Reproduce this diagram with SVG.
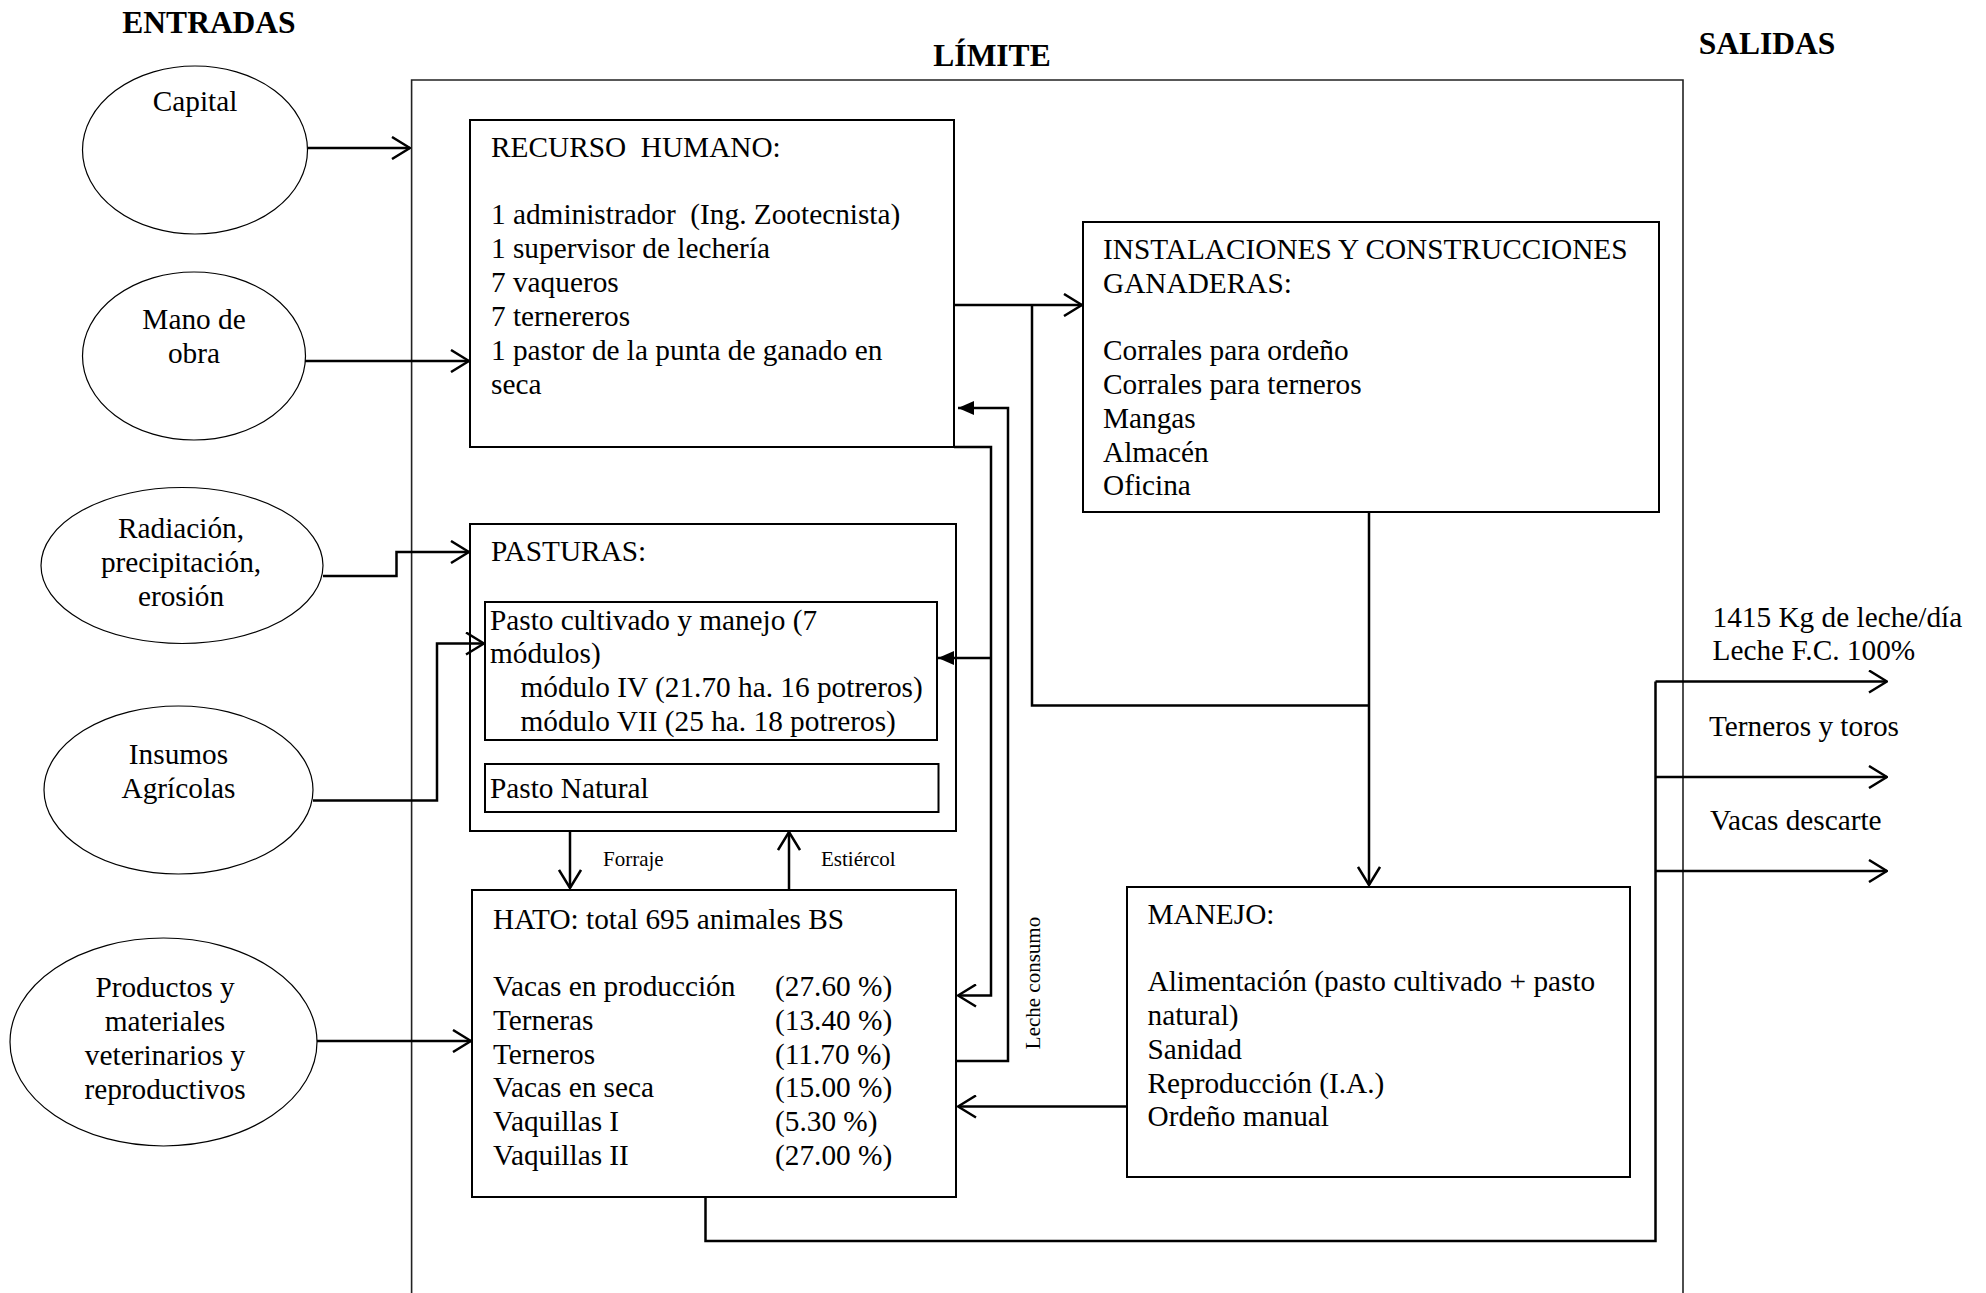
<svg xmlns="http://www.w3.org/2000/svg" width="1986" height="1293" viewBox="0 0 1986 1293">
<style>
text{font-family:"Liberation Serif","Times New Roman",serif;fill:#000}
.t{font-size:29.3px}
.b{font-size:31.5px;font-weight:bold}
.s{font-size:21px}
.c{text-anchor:middle}
.box{fill:#fff;stroke:#000;stroke-width:2}
.ell{fill:#fff;stroke:#000;stroke-width:1.2}
.ln{fill:none;stroke:#000;stroke-width:2.5}
.bd{fill:none;stroke:#222;stroke-width:1.6}
</style>
<defs>
<marker id="oa" viewBox="0 0 20 24" refX="19" refY="12" markerWidth="20" markerHeight="24" markerUnits="userSpaceOnUse" orient="auto">
<path d="M1,1 L19,12 L1,23" fill="none" stroke="#000" stroke-width="2.5"/>
</marker>
<marker id="fa" viewBox="0 0 16 14" refX="16" refY="7" markerWidth="16" markerHeight="14" markerUnits="userSpaceOnUse" orient="auto">
<path d="M0,0 L16,7 L0,14 Z" fill="#000"/>
</marker>
</defs>
<rect width="1986" height="1293" fill="#fff"/>

<g id="titles">
<text class="b c" x="209" y="33">ENTRADAS</text>
<text class="b c" x="992" y="66">LÍMITE</text>
<text class="b c" x="1767" y="54">SALIDAS</text>
</g>

<g id="limite">
<path class="bd" d="M411.6,1300 V80 H1683 V1300"/>
</g>

<g id="capital">
<ellipse class="ell" cx="195" cy="150" rx="112.5" ry="84"/>
<text class="t c" x="195" y="111">Capital</text>
</g>
<g id="mano-de-obra">
<ellipse class="ell" cx="194" cy="356" rx="111.5" ry="84"/>
<text class="t c" x="194" y="329">Mano de</text>
<text class="t c" x="194" y="363">obra</text>
</g>
<g id="radiacion">
<ellipse class="ell" cx="182" cy="565.5" rx="141" ry="78"/>
<text class="t c" x="181" y="538">Radiación,</text>
<text class="t c" x="181" y="572">precipitación,</text>
<text class="t c" x="181" y="606">erosión</text>
</g>
<g id="insumos">
<ellipse class="ell" cx="178.5" cy="790" rx="134.5" ry="84"/>
<text class="t c" x="178.5" y="764">Insumos</text>
<text class="t c" x="178.5" y="798">Agrícolas</text>
</g>
<g id="productos">
<ellipse class="ell" cx="163.5" cy="1042" rx="153.5" ry="104"/>
<text class="t c" x="165" y="997">Productos y</text>
<text class="t c" x="165" y="1031">materiales</text>
<text class="t c" x="165" y="1065">veterinarios y</text>
<text class="t c" x="165" y="1099">reproductivos</text>
</g>

<g id="recurso-humano">
<rect class="box" x="470" y="120" width="484" height="327"/>
<text class="t" x="491" y="157" xml:space="preserve">RECURSO  HUMANO:</text>
<text class="t" x="491" y="224" xml:space="preserve">1 administrador  (Ing. Zootecnista)</text>
<text class="t" x="491" y="258">1 supervisor de lechería</text>
<text class="t" x="491" y="292">7 vaqueros</text>
<text class="t" x="491" y="325.5">7 ternereros</text>
<text class="t" x="491" y="359.5">1 pastor de la punta de ganado en</text>
<text class="t" x="491" y="393.5">seca</text>
</g>

<g id="instalaciones">
<rect class="box" x="1083" y="222" width="576" height="290"/>
<text class="t" x="1103" y="258.5">INSTALACIONES Y CONSTRUCCIONES</text>
<text class="t" x="1103" y="292.5">GANADERAS:</text>
<text class="t" x="1103" y="360">Corrales para ordeño</text>
<text class="t" x="1103" y="394">Corrales para terneros</text>
<text class="t" x="1103" y="427.5">Mangas</text>
<text class="t" x="1103" y="461.5">Almacén</text>
<text class="t" x="1103" y="495">Oficina</text>
</g>

<g id="pasturas">
<rect class="box" x="470" y="524" width="486" height="307"/>
<text class="t" x="491" y="561">PASTURAS:</text>
<g id="pasto-cultivado">
<rect class="box" x="485" y="602" width="452" height="138"/>
<text class="t" x="490" y="629.5">Pasto cultivado y manejo (7</text>
<text class="t" x="490" y="663">módulos)</text>
<text class="t" x="520.5" y="697">módulo IV (21.70 ha. 16 potreros)</text>
<text class="t" x="520.5" y="731">módulo VII (25 ha. 18 potreros)</text>
</g>
<g id="pasto-natural">
<rect class="box" x="485" y="764" width="453.5" height="48"/>
<text class="t" x="490" y="798">Pasto Natural</text>
</g>
</g>

<g id="hato">
<rect class="box" x="472" y="890" width="484" height="307"/>
<text class="t" x="493" y="928.5">HATO: total 695 animales BS</text>
<text class="t" x="493" y="996">Vacas en producción</text>
<text class="t" x="493" y="1030">Terneras</text>
<text class="t" x="493" y="1063.5">Terneros</text>
<text class="t" x="493" y="1097">Vacas en seca</text>
<text class="t" x="493" y="1131">Vaquillas I</text>
<text class="t" x="493" y="1165">Vaquillas II</text>
<text class="t" x="775" y="996">(27.60 %)</text>
<text class="t" x="775" y="1030">(13.40 %)</text>
<text class="t" x="775" y="1063.5">(11.70 %)</text>
<text class="t" x="775" y="1097">(15.00 %)</text>
<text class="t" x="775" y="1131">(5.30 %)</text>
<text class="t" x="775" y="1165">(27.00 %)</text>
</g>

<g id="manejo">
<rect class="box" x="1127" y="887" width="503" height="290"/>
<text class="t" x="1147.5" y="923.5">MANEJO:</text>
<text class="t" x="1147.5" y="991">Alimentación (pasto cultivado + pasto</text>
<text class="t" x="1147.5" y="1025">natural)</text>
<text class="t" x="1147.5" y="1058.5">Sanidad</text>
<text class="t" x="1147.5" y="1092.5">Reproducción (I.A.)</text>
<text class="t" x="1147.5" y="1126">Ordeño manual</text>
</g>

<g id="connectors">
<path class="ln" d="M308,148 H410" marker-end="url(#oa)"/>
<path class="ln" d="M305,361 H469" marker-end="url(#oa)"/>
<path class="ln" d="M323,576 H396.5 V552 H469" marker-end="url(#oa)"/>
<path class="ln" d="M313,800.5 H437 V643.5 H484" marker-end="url(#oa)"/>
<path class="ln" d="M317,1041 H471" marker-end="url(#oa)"/>
<path class="ln" d="M954,305 H1082" marker-end="url(#oa)"/>
<path class="ln" d="M1032,305 V705.5 H1369"/>
<path class="ln" d="M1369,512 V885" marker-end="url(#oa)"/>
<path class="ln" d="M954,447 H991 V995.5 H958" marker-end="url(#oa)"/>
<path class="ln" d="M991,658 H938" marker-end="url(#fa)"/>
<path class="ln" d="M956,1061 H1008 V408 H958" marker-end="url(#fa)"/>
<path class="ln" d="M570,831 V888" marker-end="url(#oa)"/>
<path class="ln" d="M789,889 V832" marker-end="url(#oa)"/>
<path class="ln" d="M1127,1106.5 H958" marker-end="url(#oa)"/>
<path class="ln" d="M705.5,1197 V1241 H1655.5 V681.5"/>
<path class="ln" d="M1655.5,681.5 H1887" marker-end="url(#oa)"/>
<path class="ln" d="M1655.5,777 H1887" marker-end="url(#oa)"/>
<path class="ln" d="M1655.5,871 H1887" marker-end="url(#oa)"/>
</g>

<g id="labels">
<text class="s" x="603" y="866">Forraje</text>
<text class="s" x="821" y="866">Estiércol</text>
<text class="s c" transform="translate(1040,983) rotate(-90)">Leche consumo</text>
<text class="t" x="1712.5" y="627">1415 Kg de leche/día</text>
<text class="t" x="1712.5" y="660">Leche F.C. 100%</text>
<text class="t" x="1709" y="736">Terneros y toros</text>
<text class="t" x="1710" y="830">Vacas descarte</text>
</g>
</svg>
